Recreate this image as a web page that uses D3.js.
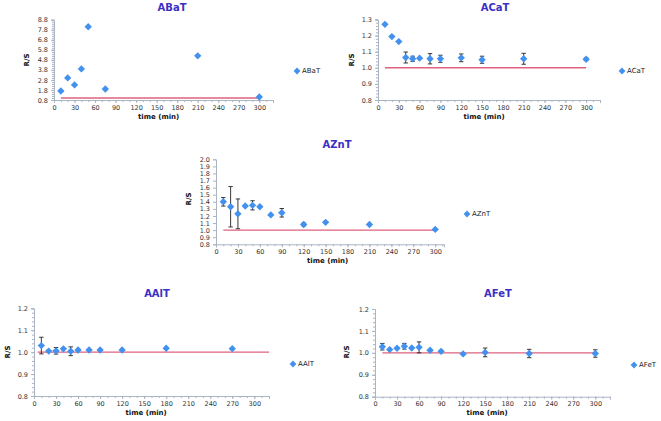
<!DOCTYPE html>
<html><head><meta charset="utf-8">
<script src="https://cdn.jsdelivr.net/npm/d3@7"></script>
<style>body{margin:0;background:#fff}svg{display:block}</style>
</head><body>
<svg id="c" width="661" height="421"></svg>
<script>
// ---- data ----
const panelNames = ["ABaT", "ACaT", "AZnT", "AAlT", "AFeT"];
const xTickLabels = [0, 30, 60, 90, 120, 150, 180, 210, 240, 270, 300];

const baTimes = [10, 20, 30, 40, 50, 75, 210, 300];
const baValues = [1.7, 3.0, 2.3, 3.9, 8.1, 1.9, 5.2, 1.1];
const baErrors = [0, 0, 0, 0, 0, 0, 0, 0];
const baYTicks = [0.8, 1.8, 2.8, 3.8, 4.8, 5.8, 6.8, 7.8, 8.8];

const caTimes = [10, 20, 30, 40, 50, 60, 75, 90, 120, 150, 210, 300];
const caValues = [1.27, 1.194, 1.163, 1.064, 1.056, 1.06, 1.056, 1.056, 1.062, 1.05, 1.056, 1.053];
const caErrors = [0, 0, 0, 0.034, 0.016, 0, 0.032, 0.022, 0.024, 0.022, 0.034, 0.008];
const caYTicks = [0.8, 0.9, 1.0, 1.1, 1.2, 1.3];

const znTimes = [10, 20, 30, 40, 50, 60, 75, 90, 120, 150, 210, 300];
const znValues = [1.40, 1.33, 1.23, 1.34, 1.35, 1.33, 1.215, 1.245, 1.08, 1.11, 1.08, 1.01];
const znErrors = [0.06, 0.285, 0.21, 0, 0.065, 0, 0, 0.06, 0.02, 0, 0, 0];
const znYTicks = [0.8, 0.9, 1.0, 1.1, 1.2, 1.3, 1.4, 1.5, 1.6, 1.7, 1.8, 1.9, 2.0];

const alTimes = [10, 20, 30, 40, 50, 60, 75, 90, 120, 180, 270];
const alValues = [1.03, 1.005, 1.006, 1.015, 1.004, 1.01, 1.01, 1.01, 1.01, 1.018, 1.016];
const alErrors = [0.038, 0, 0.015, 0, 0.02, 0, 0, 0, 0, 0, 0];
const alYTicks = [0.8, 0.9, 1.0, 1.1, 1.2];

const feTimes = [10, 20, 30, 40, 50, 60, 75, 90, 120, 150, 210, 300];
const feValues = [1.028, 1.015, 1.021, 1.03, 1.022, 1.025, 1.012, 1.007, 0.995, 1.002, 0.997, 0.997];
const feErrors = [0.015, 0, 0, 0.013, 0, 0.025, 0, 0, 0, 0.02, 0.019, 0.017];
const feYTicks = [0.8, 0.9, 1.0, 1.1, 1.2];

const refValue = 1.0;
const refSpans = [[10, 300], [10, 300], [10, 300], [5, 320], [10, 300]];

// ---- layout ----
const layout = [
  {x0: 54, x1: 273, xMax: 320, yTop: 19.7, yBot: 100, tx: 172, ty: 11, lx: 297, ly: 71, ylx: 27, yly: 60, minorY: 0.2, showXLabel: true},
  {x0: 378, x1: 600, xMax: 320, yTop: 19.5, yBot: 100, tx: 495, ty: 11, lx: 622, ly: 71, ylx: 352, yly: 60, minorY: 0.02, showXLabel: true},
  {x0: 216, x1: 444, xMax: 312, yTop: 159.3, yBot: 244.3, tx: 337, ty: 148, lx: 467, ly: 214, ylx: 189, yly: 199, minorY: 0, showXLabel: true},
  {x0: 34, x1: 269, xMax: 320, yTop: 308.3, yBot: 396, tx: 157, ty: 297, lx: 293, ly: 364, ylx: 8, yly: 352, minorY: 0.02, showXLabel: true},
  {x0: 375, x1: 610, xMax: 320, yTop: 309, yBot: 396.7, tx: 498, ty: 297, lx: 634, ly: 365, ylx: 347, yly: 352, minorY: 0.02, showXLabel: true}
];

const series = [
  {times: baTimes, values: baValues, errors: baErrors, yTicks: baYTicks},
  {times: caTimes, values: caValues, errors: caErrors, yTicks: caYTicks},
  {times: znTimes, values: znValues, errors: znErrors, yTicks: znYTicks},
  {times: alTimes, values: alValues, errors: alErrors, yTicks: alYTicks},
  {times: feTimes, values: feValues, errors: feErrors, yTicks: feYTicks}
];

const C = {
  marker: "#4391ef", ref: "#de627e", title: "#3b30c4", axis: "#aab4c2",
  tick: "#333", err: "#222"
};
const FONT = "'DejaVu Sans', Verdana, sans-serif";

const svg = d3.select("#c");

series.forEach((s, i) => {
  const L = layout[i];
  const yT = s.yTicks;
  const x = d3.scaleLinear().domain([0, L.xMax]).range([L.x0, L.x1]);
  const y = d3.scaleLinear().domain([yT[0], yT[yT.length - 1]]).range([L.yBot, L.yTop]);
  const g = svg.append("g");

  // minor ticks
  const minorX = d3.range(0, L.xMax + 0.001, 10);
  const xMinorAxis = d3.axisBottom(x).tickValues(minorX).tickSize(2).tickFormat("");
  const xm = g.append("g").attr("transform", `translate(0,${L.yBot})`).call(xMinorAxis);
  xm.select(".domain").remove();
  xm.selectAll("line").attr("stroke", C.axis);
  if (L.minorY) {
    const n = Math.round((yT[yT.length - 1] - yT[0]) / L.minorY);
    const minorYv = d3.range(n + 1).map(k => yT[0] + k * L.minorY);
    const ym = g.append("g").attr("transform", `translate(${L.x0},0)`)
      .call(d3.axisLeft(y).tickValues(minorYv).tickSize(2).tickFormat(""));
    ym.select(".domain").remove();
    ym.selectAll("line").attr("stroke", C.axis);
  }

  // major axes
  const xa = g.append("g").attr("transform", `translate(0,${L.yBot})`)
    .call(d3.axisBottom(x).tickValues(xTickLabels).tickSize(3).tickPadding(2).tickFormat(d3.format("d")));
  const ya = g.append("g").attr("transform", `translate(${L.x0},0)`)
    .call(d3.axisLeft(y).tickValues(yT).tickSize(3).tickPadding(3).tickFormat(d3.format(".1f")));
  [xa, ya].forEach(a => {
    a.select(".domain").attr("stroke", C.axis).attr("stroke-width", 1);
    a.selectAll(".tick line").attr("stroke", C.axis);
    a.selectAll("text").attr("fill", C.tick).style("font-family", FONT).style("font-size", "6.5px");
  });

  // reference line
  const span = refSpans[i];
  g.append("line")
    .attr("x1", x(span[0])).attr("x2", x(span[1]))
    .attr("y1", y(refValue)).attr("y2", y(refValue))
    .attr("stroke", C.ref).attr("stroke-width", 1.4);

  // error bars
  const pts = s.times.map((t, k) => ({t, v: s.values[k], e: s.errors[k]}));
  const eb = g.append("g").attr("stroke", C.err).attr("stroke-width", 0.9);
  pts.filter(p => p.e > 0).forEach(p => {
    const cx = x(p.t);
    eb.append("line").attr("x1", cx).attr("x2", cx).attr("y1", y(p.v + p.e)).attr("y2", y(p.v - p.e));
    [p.v + p.e, p.v - p.e].forEach(vv => {
      eb.append("line").attr("x1", cx - 2.2).attr("x2", cx + 2.2).attr("y1", y(vv)).attr("y2", y(vv));
    });
  });

  // markers
  g.append("g").selectAll("rect").data(pts).join("rect")
    .attr("x", -2.6).attr("y", -2.6).attr("width", 5.2).attr("height", 5.2)
    .attr("transform", d => `translate(${x(d.t)},${y(d.v)}) rotate(45)`)
    .attr("fill", C.marker);

  // title
  g.append("text").attr("x", L.tx).attr("y", L.ty).attr("text-anchor", "middle")
    .attr("fill", C.title).style("font-family", FONT).style("font-weight", "bold").style("font-size", "10px")
    .text(panelNames[i]);

  // y label
  g.append("text").attr("transform", `translate(${L.ylx},${L.yly}) rotate(-90)`)
    .attr("text-anchor", "middle").attr("dy", "0.35em")
    .attr("fill", "#111").style("font-family", FONT).style("font-weight", "bold").style("font-size", "7px")
    .text("R/S");

  // x label
  g.append("text").attr("x", (L.x0 + x(300)) / 2 + 2).attr("y", L.yBot + 18.5).attr("text-anchor", "middle")
    .attr("fill", "#111").style("font-family", FONT).style("font-weight", "bold").style("font-size", "7px")
    .text("time (min)");

  // legend
  g.append("rect").attr("x", -2.4).attr("y", -2.4).attr("width", 4.8).attr("height", 4.8)
    .attr("transform", `translate(${L.lx},${L.ly}) rotate(45)`).attr("fill", C.marker);
  g.append("text").attr("x", L.lx + 5).attr("y", L.ly).attr("dy", "0.35em")
    .attr("fill", "#222").style("font-family", FONT).style("font-size", "7px")
    .text(panelNames[i]);
});
</script>
</body></html>
